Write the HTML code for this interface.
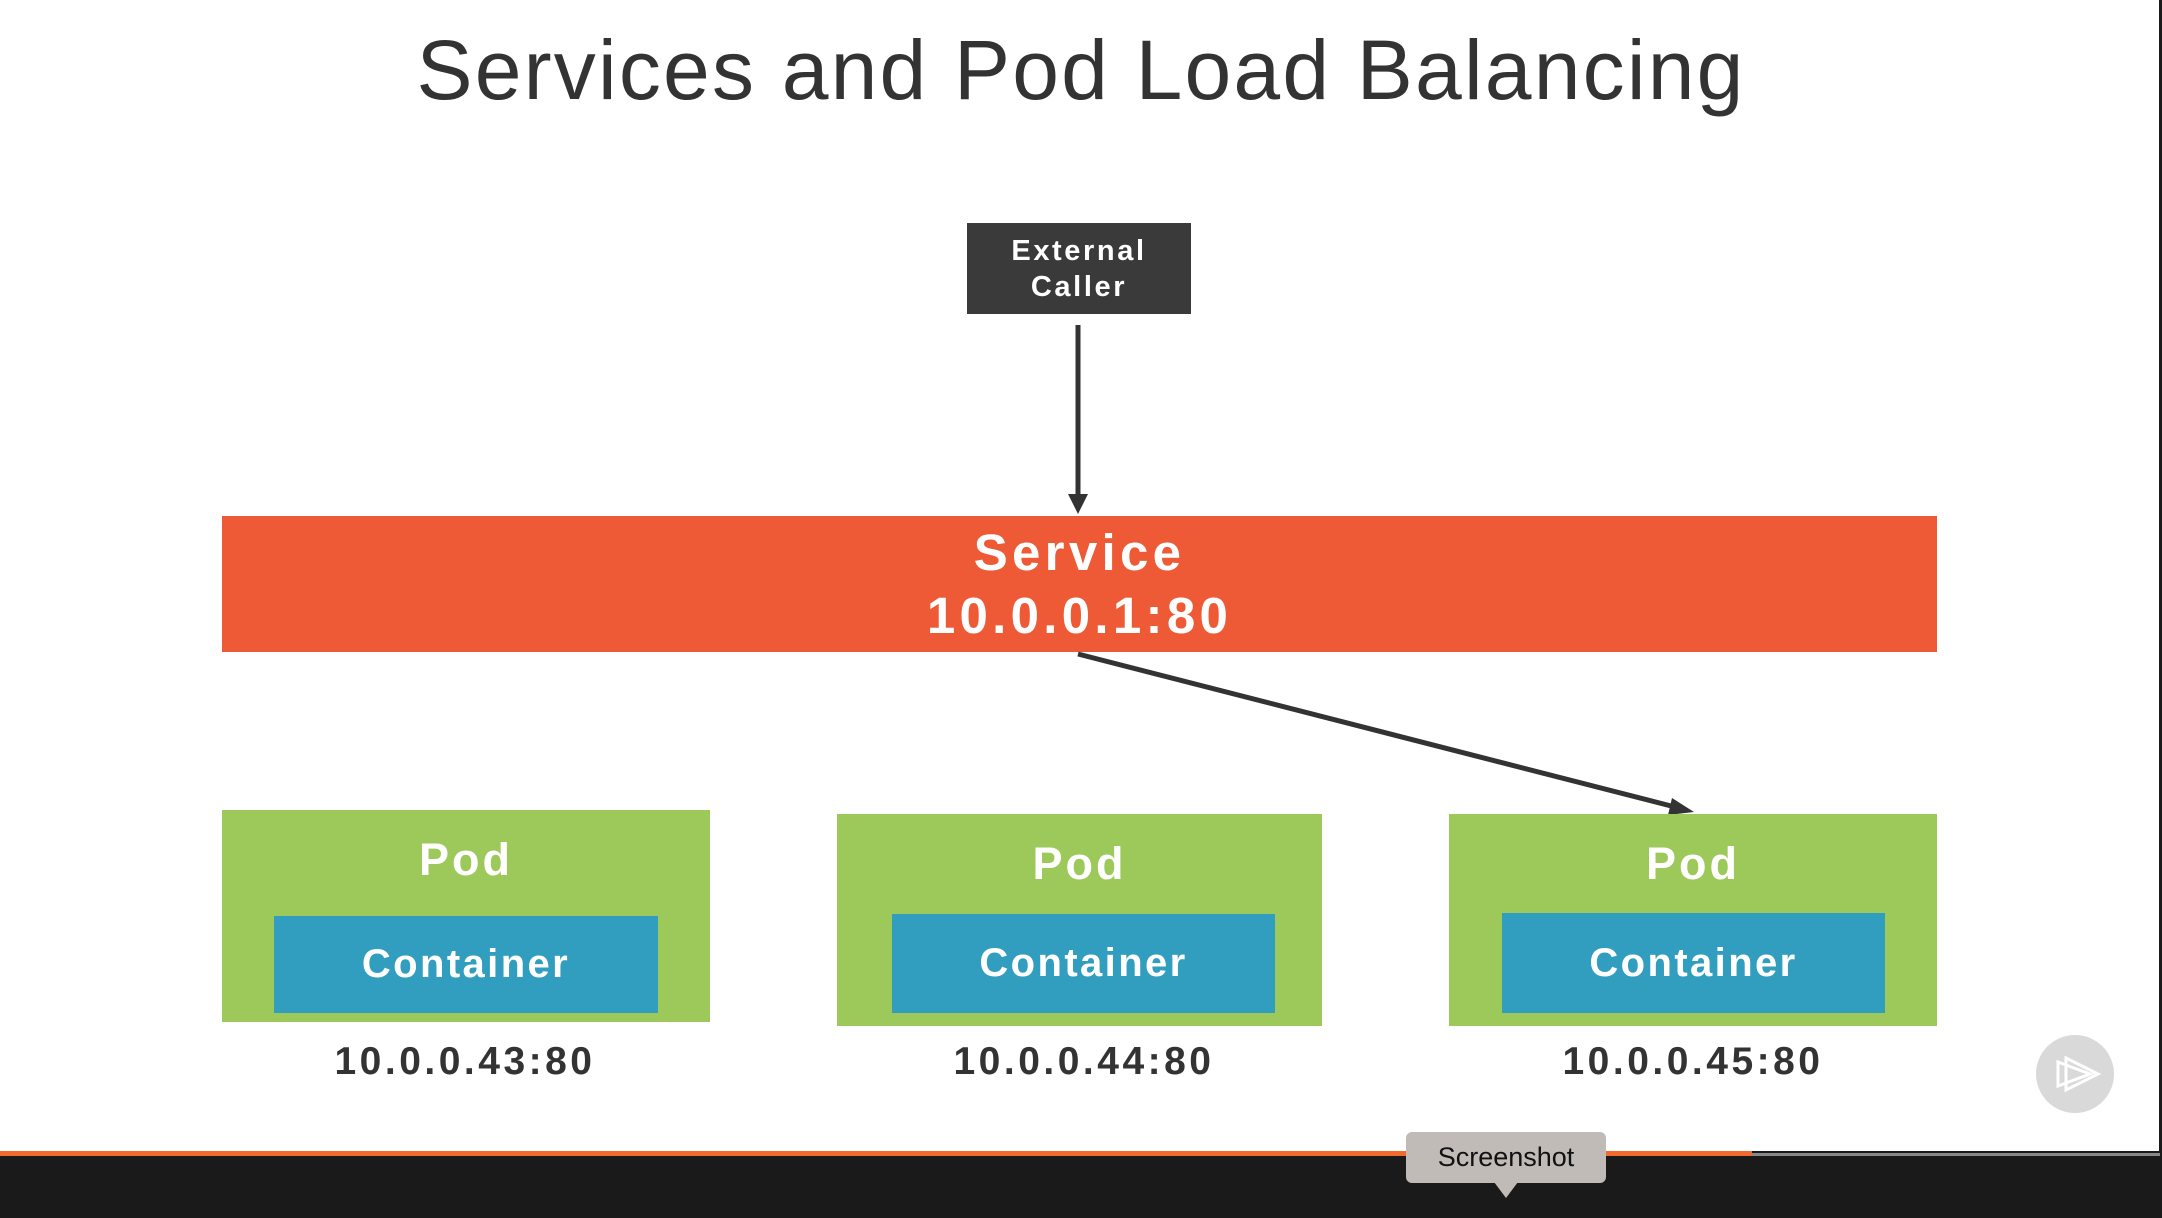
<!DOCTYPE html>
<html><head><meta charset="utf-8"><style>
body{margin:0;width:2162px;height:1218px;background:#fff;position:relative;overflow:hidden;font-family:"Liberation Sans",sans-serif}
.a{position:absolute}
.c{display:flex;align-items:center;justify-content:center;text-align:center;color:#fff;font-weight:bold}
.ip{position:absolute;width:500px;text-align:center;font-weight:bold;font-size:39px;color:#333;top:1040px;letter-spacing:3.5px}
.pod{letter-spacing:3px}
.ct{letter-spacing:2.4px}
</style></head><body>
<div class="a" style="left:0;top:22px;width:2162px;text-align:center;font-size:84px;color:#333;font-weight:300;letter-spacing:2.2px">Services and Pod Load Balancing</div>
<div class="a c" style="left:967px;top:223px;width:224px;height:91px;background:#3a3a3a;font-size:29px;line-height:36px;letter-spacing:2.6px">External<br>Caller</div>
<div class="a c" style="left:222px;top:516px;width:1715px;height:136px;background:#ee5a35;font-size:51px;line-height:63px;letter-spacing:4.3px">Service<br>10.0.0.1:80</div>
<svg class="a" style="left:0;top:0" width="2162" height="1218">
<line x1="1078" y1="325" x2="1078" y2="496" stroke="#333" stroke-width="5"/>
<polygon points="1068,494 1088,494 1078,514" fill="#333"/>
<line x1="1078" y1="654" x2="1675" y2="807" stroke="#333" stroke-width="5"/>
<polygon points="1694,812 1672,798 1668,815" fill="#333"/>
<circle cx="2075" cy="1074" r="39" fill="#d9d9d9"/>
<polyline points="2066,1058 2066,1088" stroke="#fff" stroke-width="3" fill="none"/>
<polygon points="2066,1058 2098,1074 2066,1090" stroke="#fff" stroke-width="3" fill="none"/>
<polygon points="2058,1062 2090,1074 2058,1086" stroke="#fff" stroke-width="3" fill="none"/>
</svg>
<div class="a" style="left:222px;top:810px;width:488px;height:212px;background:#9dc85a"></div>
<div class="a" style="left:837px;top:814px;width:485px;height:212px;background:#9dc85a"></div>
<div class="a" style="left:1449px;top:814px;width:488px;height:212px;background:#9dc85a"></div>
<div class="a c pod" style="left:222px;top:830px;width:488px;height:60px;font-size:45px">Pod</div>
<div class="a c pod" style="left:837px;top:834px;width:485px;height:60px;font-size:45px">Pod</div>
<div class="a c pod" style="left:1449px;top:834px;width:488px;height:60px;font-size:45px">Pod</div>
<div class="a c ct" style="left:274px;top:916px;width:384px;height:97px;background:#319ebf;font-size:40px">Container</div>
<div class="a c ct" style="left:892px;top:914px;width:383px;height:99px;background:#319ebf;font-size:40px">Container</div>
<div class="a c ct" style="left:1502px;top:913px;width:383px;height:100px;background:#319ebf;font-size:40px">Container</div>
<div class="ip" style="left:215px">10.0.0.43:80</div>
<div class="ip" style="left:834px">10.0.0.44:80</div>
<div class="ip" style="left:1443px">10.0.0.45:80</div>
<div class="a" style="left:2159px;top:0;width:3px;height:1218px;background:#1a1a1a"></div>
<div class="a" style="left:0;top:1151px;width:2162px;height:67px;background:#1a1a1a"></div>
<div class="a" style="left:0;top:1151px;width:1752px;height:5px;background:#f26a2e"></div>
<div class="a" style="left:1752px;top:1153px;width:408px;height:3px;background:#888"></div>
<div class="a" style="left:1406px;top:1132px;width:200px;height:51px;background:#c0bbb7;border-radius:6px;font-size:27px;color:#111;text-align:center;line-height:51px">Screenshot</div>
<div class="a" style="left:1494px;top:1182px;width:0;height:0;border-left:12px solid transparent;border-right:12px solid transparent;border-top:16px solid #c0bbb7"></div>
</body></html>
